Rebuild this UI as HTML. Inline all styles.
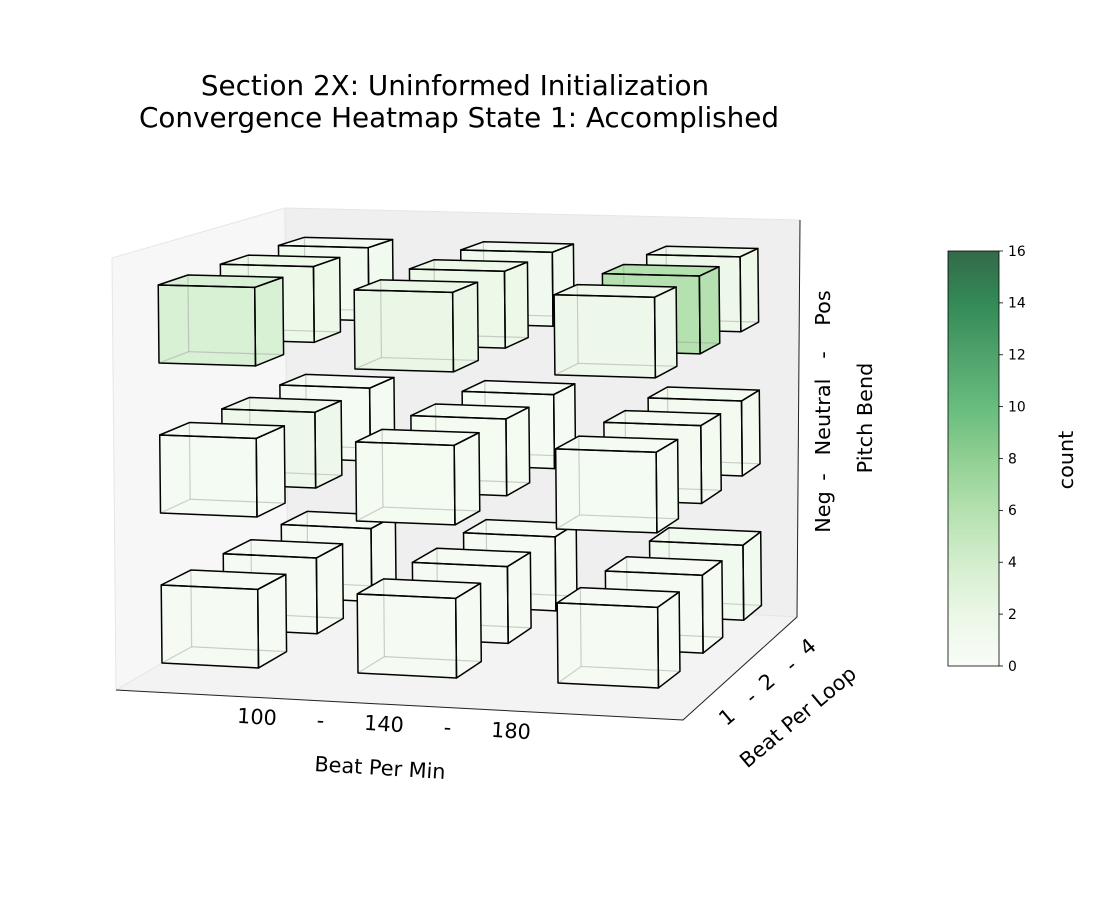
<!DOCTYPE html>
<html><head><meta charset="utf-8">
<style>
html,body{margin:0;padding:0;background:#fff;}
svg{display:block;font-family:"DejaVu Sans","Liberation Sans",sans-serif;}
</style></head>
<body>
<svg id="chart" width="1100" height="918" viewBox="0 0 1100 918">
  <text x="455" y="95" font-size="27.8" text-anchor="middle">Section 2X: Uninformed Initialization</text>
  <text x="459" y="127" font-size="27.8" text-anchor="middle">Convergence Heatmap State 1: Accomplished</text>
  <g>
    <polygon points="112,258 285,208 288,590 116,690" fill="#f7f7f7" stroke="#e6e6e6" stroke-width="1"/>
    <polygon points="285,208 800,220 797,617 288,590" fill="#efefef" stroke="#e6e6e6" stroke-width="1"/>
    <polygon points="116,690 288,590 797,617 683,720" fill="#f3f3f3" stroke="#e6e6e6" stroke-width="1"/>
    <polyline points="116,690 683,720 797,617 800,220" fill="none" stroke="#222" stroke-width="1"/>
  </g>
  <g id="cubes"></g>
  <g>
    <g id="xticks"></g>
    <text x="380" y="775" font-size="20.8" text-anchor="middle" transform="rotate(3.5 380 768)">Beat Per Min</text>
  </g>
  <g>
    <g id="yticks"></g>
    <text x="798" y="724" font-size="20.8" text-anchor="middle" transform="rotate(-40 798 717)">Beat Per Loop</text>
  </g>
  <g>
    <g id="zticks"></g>
    <text x="872" y="418" font-size="20.8" text-anchor="middle" transform="rotate(-90 872 418)">Pitch Bend</text>
  </g>
  <defs>
    <linearGradient id="cbgrad" x1="0" y1="1" x2="0" y2="0">
      <stop offset="0" stop-color="#f7fcf5"/><stop offset="0.125" stop-color="#e5f5e0"/>
      <stop offset="0.25" stop-color="#c7e9c0"/><stop offset="0.375" stop-color="#a1d99b"/>
      <stop offset="0.5" stop-color="#74c476"/><stop offset="0.625" stop-color="#41ab5d"/>
      <stop offset="0.75" stop-color="#238b45"/><stop offset="0.875" stop-color="#006d2c"/>
      <stop offset="1" stop-color="#00441b"/>
    </linearGradient>
  </defs>
  <g>
    <rect x="948" y="251" width="51" height="415" fill="url(#cbgrad)" opacity="0.8"/>
    <rect x="948" y="251" width="51" height="415" fill="none" stroke="#000" stroke-width="0.8"/>
    <g id="cbticks"></g>
    <text x="1073" y="460" font-size="20.8" text-anchor="middle" transform="rotate(-90 1073 460)">count</text>
  </g>
</svg>
<script>
// data
const bpmLabels = ["100", "140", "180"];
const loopLabels = ["1", "2", "4"];
const pitchLabels = ["Neg", "Neutral", "Pos"];
// counts[pitch][loop][bpm]
const countsNeg = [[0.5, 0.5, 0.5], [0.5, 0.5, 0.5], [0.5, 0.5, 1.0]];
const countsNeutral = [[0.6, 0.7, 0.6], [1.5, 0.7, 0.8], [0.6, 0.6, 0.8]];
const countsPos = [[3.5, 2.0, 1.5], [1.8, 1.8, 6.0], [1.0, 1.2, 1.5]];
const counts = [countsNeg, countsNeutral, countsPos];
const cbTicks = [0, 2, 4, 6, 8, 10, 12, 14, 16];
const cmax = 16;

const NS = "http://www.w3.org/2000/svg";
function P(x, y, z) {
  const ax = 162 + 64*y - 2*y*y;
  const ay = 663 - 35*y + y*y;
  const s = 1 - 0.035*y;
  const gz = 1 + 0.0135*x;
  return [ax + s*(194*x + 2*x*x - z*1.5*gz), ay + s*(x*10 - z*150*gz)];
}
const stops = ["#f7fcf5","#e5f5e0","#c7e9c0","#a1d99b","#74c476","#41ab5d","#238b45","#006d2c","#00441b"];
function hex(h){return [1,3,5].map(i=>parseInt(h.substr(i,2),16));}
function color(v) {
  const t = Math.max(0, Math.min(1, v/cmax)) * 8;
  const i = Math.min(7, Math.floor(t)), f = t - i;
  const a = hex(stops[i]), b = hex(stops[i+1]);
  const c = a.map((x,k)=>Math.round((x + (b[k]-x)*f)*0.8 + 255*0.2));
  return "rgb(" + c.join(",") + ")";
}
const W = 0.495, D = 0.47, H = 0.52;
const g = document.getElementById("cubes");
function poly(pts, fill, stroke, sw) {
  const p = document.createElementNS(NS, "polygon");
  p.setAttribute("points", pts.map(q=>q.join(",")).join(" "));
  p.setAttribute("fill", fill);
  p.setAttribute("stroke", stroke);
  p.setAttribute("stroke-width", sw);
  p.setAttribute("stroke-linejoin", "round");
  return p;
}
function line(a, b, stroke) {
  const l = document.createElementNS(NS, "line");
  l.setAttribute("x1", a[0]); l.setAttribute("y1", a[1]);
  l.setAttribute("x2", b[0]); l.setAttribute("y2", b[1]);
  l.setAttribute("stroke", stroke); l.setAttribute("stroke-width", 1.2);
  return l;
}
for (let j = 2; j >= 0; j--) {
  for (let k = 0; k < 3; k++) {
    for (let i = 0; i < 3; i++) {
      const v = counts[k][j][i];
      const c = color(v);
      const cube = document.createElementNS(NS, "g");
      
      
      const x0=i, x1=i+W, y0=j, y1=j+D, z0=k, z1=k+H;
      const f00=P(x0,y0,z0), f10=P(x1,y0,z0), f11=P(x1,y0,z1), f01=P(x0,y0,z1);
      const b00=P(x0,y1,z0), b10=P(x1,y1,z0), b11=P(x1,y1,z1), b01=P(x0,y1,z1);
      cube.appendChild(poly([f00,f10,b10,b11,b01,f01], c, "none", 0));
      cube.appendChild(line(b00,b10,"rgba(150,150,150,0.45)"));
      cube.appendChild(line(b00,b01,"rgba(150,150,150,0.45)"));
      cube.appendChild(line(b00,f00,"rgba(150,150,150,0.45)"));
      cube.appendChild(poly([f00,f10,f11,f01], "none", "#000", 1.5));
      cube.appendChild(poly([f01,f11,b11,b01], "none", "#000", 1.5));
      cube.appendChild(poly([f10,b10,b11,f11], "none", "#000", 1.5));
      g.appendChild(cube);
    }
  }
}
function addText(parent, s, x, y, rot, size, name) {
  const t = document.createElementNS(NS, "text");
  t.setAttribute("x", x); t.setAttribute("y", y);
  t.setAttribute("font-size", size); t.setAttribute("text-anchor", "middle");
  t.setAttribute("dominant-baseline", "central");
  t.setAttribute("transform", "rotate(" + rot + " " + x + " " + y + ")");
  t.textContent = s;
  
  
  parent.appendChild(t);
}
// x tick labels
const xt = document.getElementById("xticks");
[bpmLabels[0], "-", bpmLabels[1], "-", bpmLabels[2]].forEach((s, n) => {
  addText(xt, s, 257 + n*63.5, 717 + n*3.5, 3.5, 20.8, 'x-tick-label');
});
// y tick labels
const yt = document.getElementById("yticks");
const yx = [727, 751, 767, 791, 808], yy = [717, 697, 682, 665, 647];
[loopLabels[0], "-", loopLabels[1], "-", loopLabels[2]].forEach((s, n) => {
  addText(yt, s, yx[n], yy[n], -40, 20.8, 'y-tick-label');
});
// z tick labels
const zt = document.getElementById("zticks");
const zy = [512, 477, 417, 355, 308];
[pitchLabels[0], "-", pitchLabels[1], "-", pitchLabels[2]].forEach((s, n) => {
  addText(zt, s, 823, zy[n], -90, 20.8, 'z-tick-label');
});
// colorbar ticks
const cb = document.getElementById("cbticks");
cbTicks.forEach(v => {
  const y = 666 - v/cmax*415;
  const l = line([999,y],[1003,y],"#000"); l.setAttribute("stroke-width", 0.8);
  cb.appendChild(l);
  const t = document.createElementNS(NS, "text");
  t.setAttribute("x", 1008); t.setAttribute("y", y + 4.8);
  t.setAttribute("font-size", "13.9");
  t.textContent = v;
  
  
  cb.appendChild(t);
});
</script>
</body></html>
